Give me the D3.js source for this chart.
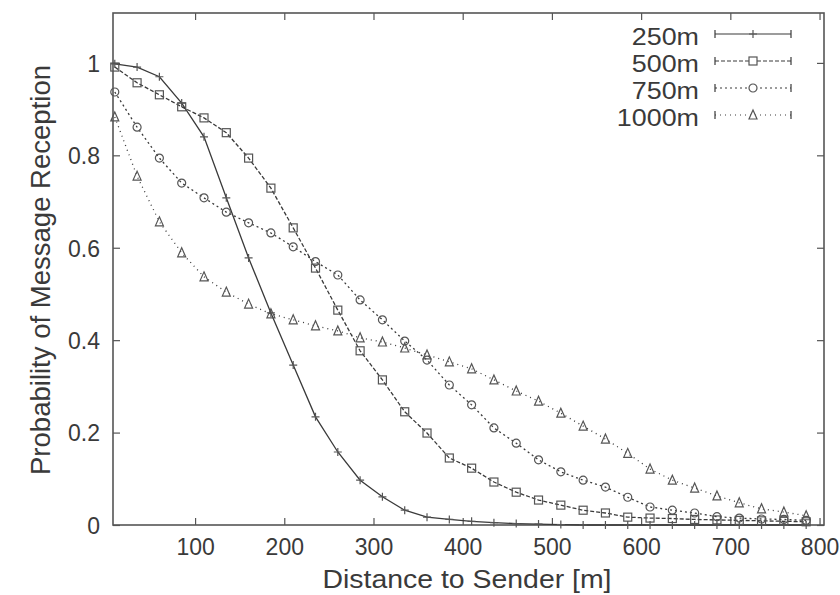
<!DOCTYPE html>
<html>
<head>
<meta charset="utf-8">
<script src="https://cdn.jsdelivr.net/npm/d3@7"></script>
<style>
    html, body { margin: 0; padding: 0; background: #fff; }
    svg { display: block; font-family: "Liberation Sans", Arial, sans-serif; }
</style>
</head>
<body>
<svg id="chart" width="840" height="595"></svg>
<script>
// Distance to sender (m), one sample every 25 m
const distances = [
    10, 35, 60, 85, 110, 135, 160, 185, 210, 235, 260, 285, 310, 335, 360, 385,
    410, 435, 460, 485, 510, 535, 560, 585, 610, 635, 660, 685, 710, 735, 760, 785
];

// Probability of message reception
const p250 = [
    0.998, 0.991, 0.970, 0.913, 0.840, 0.708, 0.578, 0.459, 0.346, 0.234, 0.158, 0.097,
    0.061, 0.032, 0.017, 0.012, 0.008, 0.005, 0.003, 0.002, 0.001, 0, 0, 0,
    0, 0, 0, 0, 0, 0, 0, 0
];
const p500 = [
    0.991, 0.957, 0.931, 0.905, 0.881, 0.849, 0.794, 0.729, 0.643, 0.556, 0.465, 0.377,
    0.314, 0.245, 0.199, 0.145, 0.123, 0.093, 0.071, 0.054, 0.043, 0.032, 0.026, 0.017,
    0.015, 0.014, 0.012, 0.011, 0.010, 0.009, 0.008, 0.007
];
const p750 = [
    0.937, 0.861, 0.794, 0.740, 0.708, 0.677, 0.654, 0.632, 0.602, 0.570, 0.541, 0.487,
    0.444, 0.398, 0.357, 0.303, 0.260, 0.210, 0.177, 0.141, 0.115, 0.097, 0.082, 0.060,
    0.039, 0.032, 0.026, 0.018, 0.015, 0.013, 0.012, 0.010
];
const p1000 = [
    0.883, 0.755, 0.656, 0.589, 0.537, 0.504, 0.478, 0.457, 0.444, 0.431, 0.420, 0.405,
    0.396, 0.383, 0.368, 0.353, 0.338, 0.314, 0.290, 0.268, 0.242, 0.214, 0.186, 0.155,
    0.121, 0.097, 0.080, 0.063, 0.048, 0.035, 0.028, 0.020
];

const seriesNames = ['250m', '500m', '750m', '1000m'];
const seriesValues = [p250, p500, p750, p1000];
const seriesMarkers = ['plus', 'square', 'circle', 'triangle'];
const seriesDashes = [null, '4,2', '2,3', '1,4'];

const xTicks = [100, 200, 300, 400, 500, 600, 700, 800];
const yTicks = [0, 0.2, 0.4, 0.6, 0.8, 1];

const xTitle = 'Distance to Sender [m]';
const yTitle = 'Probability of Message Reception';

// Layout
const PLOT = { left: 113, right: 824, top: 13, bottom: 525 };
const INK = '#3a3a3a';
const FRAME = '#555';

/**
 * Draw a marker symbol centred at (0,0)
 */
function drawMarker(sel, kind) {
    const s = 4;
    if (kind === 'plus') {
        sel.append('path').attr('d', `M${-s},0H${s}M0,${-s}V${s}`);
    } else if (kind === 'square') {
        sel.append('rect').attr('x', -s).attr('y', -s)
            .attr('width', 2 * s).attr('height', 2 * s);
    } else if (kind === 'circle') {
        sel.append('circle').attr('r', s);
    } else {
        sel.append('path').attr('d', `M0,${-s - 1}L${s},${s}L${-s},${s}Z`);
    }
}

class ReceptionChart {
    constructor() {
        this.svg = d3.select('#chart');
        this.x = d3.scaleLinear().domain([8, 805]).range([PLOT.left, PLOT.right]);
        this.y = d3.scaleLinear().domain([0, 1.108]).range([PLOT.bottom, PLOT.top]);
    }

    render() {
        this.renderAxes();
        this.renderSeries();
        this.renderLegend();
        this.renderTitles();
    }

    /**
     * Frame, inward ticks on all four sides, tick labels
     */
    renderAxes() {
        const { x, y, svg } = this;
        const w = PLOT.right - PLOT.left;
        const h = PLOT.bottom - PLOT.top;

        const bottom = svg.append('g')
            .attr('transform', `translate(0,${PLOT.bottom})`)
            .call(d3.axisBottom(x).tickValues(xTicks).tickSize(-7).tickPadding(14)
                .tickFormat(d3.format('d')));
        const top = svg.append('g')
            .attr('transform', `translate(0,${PLOT.top})`)
            .call(d3.axisTop(x).tickValues(xTicks).tickSize(-7).tickFormat(''));
        const left = svg.append('g')
            .attr('transform', `translate(${PLOT.left},0)`)
            .call(d3.axisLeft(y).tickValues(yTicks).tickSize(-7).tickPadding(13)
                .tickFormat(d3.format('~g')));
        const right = svg.append('g')
            .attr('transform', `translate(${PLOT.right},0)`)
            .call(d3.axisRight(y).tickValues(yTicks).tickSize(-7).tickFormat(''));

        [bottom, top, left, right].forEach(g => {
            g.select('.domain').remove();
            g.selectAll('line').attr('stroke', FRAME).attr('stroke-width', 1.2);
            g.selectAll('text')
                .attr('fill', INK)
                .attr('font-size', 23)
                .attr('font-family', '"Liberation Sans", Arial, sans-serif');
        });
        left.selectAll('text').attr('dy', '0.36em');

        svg.append('rect')
            .attr('x', PLOT.left).attr('y', PLOT.top)
            .attr('width', w).attr('height', h)
            .attr('fill', 'none')
            .attr('stroke', FRAME)
            .attr('stroke-width', 1.6);
    }

    /**
     * Lines and point markers for each series
     */
    renderSeries() {
        const { x, y, svg } = this;
        const line = d3.line()
            .x((d, i) => x(distances[i]))
            .y(d => y(d));

        seriesValues.forEach((values, k) => {
            const g = svg.append('g').attr('class', 'series');

            g.append('path')
                .datum(values)
                .attr('d', line)
                .attr('fill', 'none')
                .attr('stroke', INK)
                .attr('stroke-width', 1.3)
                .attr('stroke-dasharray', seriesDashes[k]);

            g.selectAll('.pt')
                .data(values)
                .enter()
                .append('g')
                .attr('class', 'pt')
                .attr('transform', (d, i) => `translate(${x(distances[i])},${y(d)})`)
                .attr('fill', 'none')
                .attr('stroke', '#555')
                .attr('stroke-width', 1.2)
                .each(function () { drawMarker(d3.select(this), seriesMarkers[k]); });
        });
    }

    /**
     * Legend in the top right corner, gnuplot error-bar style samples
     */
    renderLegend() {
        const g = this.svg.append('g').attr('class', 'legend');
        const textRight = 699;
        const x0 = 715, x1 = 791;
        const rowGap = 27;

        seriesNames.forEach((name, k) => {
            const base = 45 + k * rowGap;
            const ly = base - 11;
            const row = g.append('g');

            const label = row.append('text')
                .attr('x', textRight)
                .attr('y', base)
                .attr('text-anchor', 'end')
                .attr('font-size', 24)
                .attr('fill', INK)
                .text(name);
            // glyphs in the original are a bit wider than this font size gives
            const natural = label.node().getComputedTextLength();
            label.attr('textLength', natural * 1.12)
                .attr('lengthAdjust', 'spacingAndGlyphs');

            row.append('line')
                .attr('x1', x0).attr('x2', x1)
                .attr('y1', ly).attr('y2', ly)
                .attr('stroke', INK)
                .attr('stroke-width', 1.2)
                .attr('stroke-dasharray', seriesDashes[k]);

            [x0, x1].forEach(ex => {
                row.append('line')
                    .attr('x1', ex).attr('x2', ex)
                    .attr('y1', ly - 4).attr('y2', ly + 4)
                    .attr('stroke', INK)
                    .attr('stroke-width', 1.2);
            });

            row.append('g')
                .attr('transform', `translate(${(x0 + x1) / 2},${ly})`)
                .attr('fill', '#fff')
                .attr('stroke', '#555')
                .attr('stroke-width', 1.2)
                .call(sel => drawMarker(sel, seriesMarkers[k]));
        });
    }

    /**
     * Axis titles
     */
    renderTitles() {
        this.svg.append('text')
            .attr('x', 467)
            .attr('y', 588)
            .attr('text-anchor', 'middle')
            .attr('font-size', 26)
            .attr('fill', INK)
            .attr('textLength', 289)
            .attr('lengthAdjust', 'spacingAndGlyphs')
            .text(xTitle);

        this.svg.append('text')
            .attr('transform', 'translate(50,270) rotate(-90)')
            .attr('text-anchor', 'middle')
            .attr('font-size', 27)
            .attr('fill', INK)
            .attr('textLength', 410)
            .attr('lengthAdjust', 'spacingAndGlyphs')
            .text(yTitle);
    }
}

document.addEventListener('DOMContentLoaded', () => {
    new ReceptionChart().render();
});
</script>
</body>
</html>
